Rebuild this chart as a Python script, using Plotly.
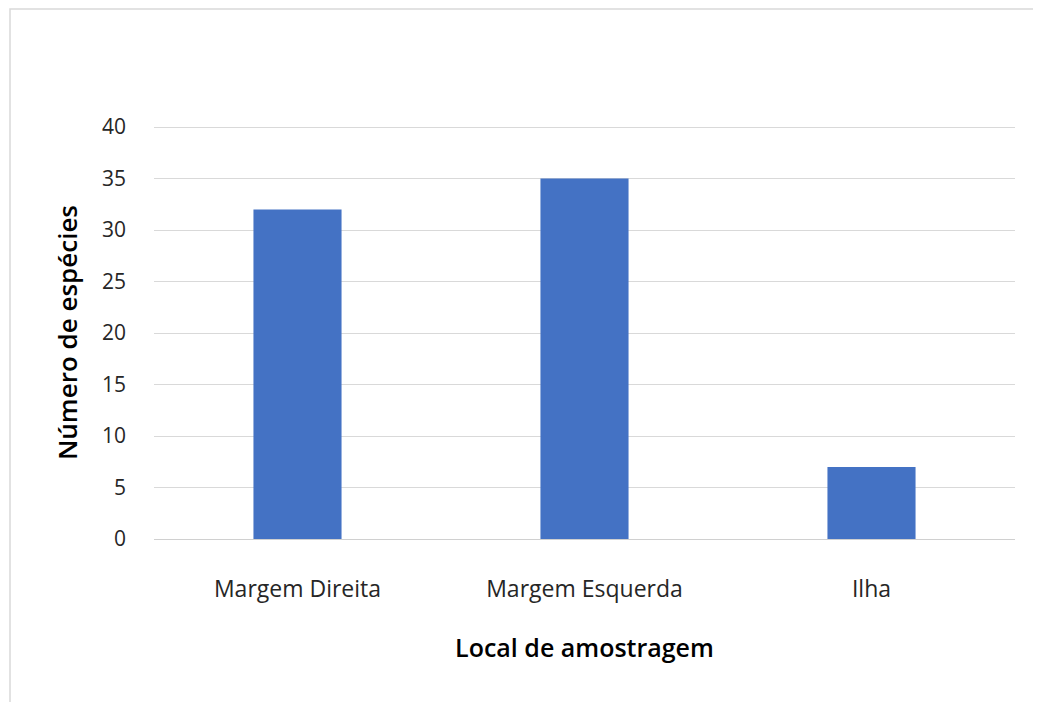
import plotly.graph_objects as go

categories = ["Margem Direita", "Margem Esquerda", "Ilha"]
values = [32, 35, 7]
y_ticks = [0, 5, 10, 15, 20, 25, 30, 35, 40]

OFF = 8  # page offset of the plot div
W, H = 1041 - OFF, 702 - OFF
L, R, T, B = 154 - OFF, 26, 127 - OFF - 1, 163
pw = W - L - R
ph = H - T - B

fig = go.Figure(go.Bar(x=categories, y=values, marker=dict(color="#4472C4", line=dict(width=0)), width=0.307))

fig.update_layout(
    width=W, height=H,
    margin=dict(l=L, r=R, t=T, b=B),
    paper_bgcolor="white", plot_bgcolor="white",
    font=dict(family="Open Sans", color="#404040", size=15),
    showlegend=False,
)
fig.update_xaxes(
    showgrid=False, showline=False, ticks="",
    tickfont=dict(size=23, color="#262626"),
    ticklabelstandoff=34,
    title=dict(text="Local de amostragem", font=dict(size=25, color="#000000", family="Open Sans", weight=600), standoff=36),
)
fig.update_yaxes(
    range=[0, 40.1], tickvals=y_ticks, showgrid=True, gridcolor="#d9d9d9", gridwidth=1,
    zeroline=True, zerolinecolor="#d0d0d0", zerolinewidth=1,
    tickfont=dict(size=21, color="#262626"), ticklabelstandoff=27,
    title=dict(text="Número de espécies", font=dict(size=26, color="#000000", family="Open Sans", weight=600), standoff=16),
)

fig.add_shape(type="rect", xref="paper", yref="paper",
              x0=(2 - L) / pw, x1=(1032 - L) / pw,
              y0=-(720 - (H - B)) / ph, y1=((H - B) - 1) / ph,
              line=dict(color="#d9d9d9", width=1.5), fillcolor="rgba(0,0,0,0)", layer="below")

fig.write_html("out.html")
